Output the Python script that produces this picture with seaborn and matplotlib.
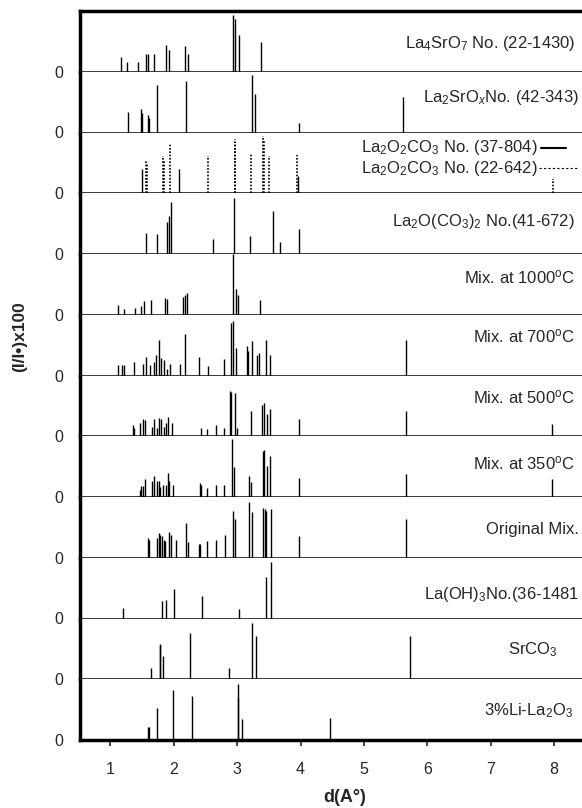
import numpy as np
import pandas as pd
import seaborn as sns
import matplotlib.pyplot as plt
from matplotlib.lines import Line2D

# stick patterns, d in Angstrom, intensity in % of panel height
d_la4sro7 = [1.16, 1.26, 1.44, 1.56, 1.59, 1.69, 1.87, 1.92, 2.18, 2.22, 2.94, 2.97, 3.03, 3.375]
i_la4sro7 = [24, 16, 16, 29, 29, 29, 44, 35, 42, 30, 93, 87, 60, 49]

d_la2srox = [1.27, 1.49, 1.50, 1.60, 1.61, 1.74, 2.19, 3.23, 3.28, 3.97, 5.61]
i_la2srox = [33, 38, 32, 29, 24, 78, 85, 95, 64, 16, 59]

d_37804 = [1.50, 2.08, 3.96]
i_37804 = [40, 40, 28]
d_22642 = [1.56, 1.58, 1.83, 1.85, 1.94, 2.54, 2.96, 2.97, 3.21, 3.40, 3.42, 3.50, 3.95, 7.98]
i_22642 = [53, 50, 61, 55, 81, 62, 89, 85, 66, 94, 88, 61, 63, 23]

d_la2oco3 = [1.56, 1.74, 1.89, 1.92, 1.95, 2.62, 2.95, 3.20, 3.57, 3.68, 3.98]
i_la2oco3 = [35, 33, 53, 63, 86, 24, 93, 30, 71, 19, 41]

d_1000 = [1.12, 1.22, 1.38, 1.49, 1.53, 1.64, 1.86, 1.89, 2.14, 2.18, 2.21, 2.94, 2.98, 3.02, 3.36]
i_1000 = [16, 9, 11, 15, 23, 24, 27, 26, 30, 33, 36, 100, 42, 32, 24]

d_700 = [1.12, 1.18, 1.22, 1.37, 1.51, 1.56, 1.62, 1.68, 1.72, 1.77, 1.80, 1.84, 1.89, 1.94,
         2.09, 2.18, 2.39, 2.54, 2.79, 2.91, 2.93, 2.98, 3.16, 3.17, 3.23, 3.32, 3.35, 3.46,
         3.51, 5.67]
i_700 = [18, 18, 18, 22, 19, 30, 18, 22, 34, 58, 28, 26, 11, 19,
         19, 69, 30, 16, 27, 87, 90, 45, 48, 41, 56, 34, 37, 59,
         34, 59]

d_500 = [1.35, 1.37, 1.46, 1.51, 1.55, 1.65, 1.69, 1.73, 1.77, 1.80, 1.84, 1.87, 1.91, 1.97,
         2.43, 2.53, 2.66, 2.79, 2.88, 2.91, 2.96, 3.00, 3.22, 3.39, 3.43, 3.47, 3.51, 3.97,
         5.67, 7.97]
i_500 = [19, 14, 21, 29, 27, 15, 29, 14, 30, 29, 15, 22, 31, 21,
         14, 12, 18, 14, 74, 73, 71, 14, 42, 52, 55, 36, 45, 29,
         41, 20]

d_350 = [1.46, 1.48, 1.52, 1.55, 1.65, 1.69, 1.73, 1.76, 1.79, 1.83, 1.87, 1.91, 1.93, 1.98,
         2.41, 2.43, 2.53, 2.66, 2.79, 2.92, 2.95, 3.18, 3.22, 3.40, 3.42, 3.47, 3.51, 3.97,
         5.67, 7.97]
i_350 = [12, 18, 18, 30, 27, 35, 26, 26, 16, 19, 20, 39, 26, 19,
         23, 20, 15, 20, 19, 96, 49, 35, 25, 75, 78, 51, 68, 32,
         38, 30]

d_orig = [1.59, 1.61, 1.73, 1.76, 1.78, 1.81, 1.84, 1.86, 1.93, 1.96, 2.04, 2.19, 2.22, 2.39,
          2.41, 2.53, 2.66, 2.80, 2.93, 2.96, 3.19, 3.24, 3.41, 3.44, 3.46, 3.53, 3.98, 5.67]
i_orig = [33, 30, 33, 40, 37, 35, 30, 27, 43, 37, 29, 57, 26, 22,
          22, 27, 29, 37, 77, 63, 92, 76, 82, 80, 77, 80, 36, 64]

d_laoh3 = [1.20, 1.82, 1.87, 2.01, 2.44, 3.03, 3.46, 3.53]
i_laoh3 = [17, 28, 31, 48, 37, 15, 68, 93]

d_srco3 = [1.64, 1.78, 1.79, 1.83, 2.25, 2.87, 3.23, 3.30, 5.72]
i_srco3 = [18, 58, 57, 38, 76, 18, 93, 71, 72]

d_li = [1.59, 1.61, 1.73, 1.98, 2.28, 3.01, 3.02, 3.08, 4.47]
i_li = [22, 22, 52, 83, 73, 93, 71, 35, 36]

deg = "$^{\\rm o}$C"
labels = ["La$_4$SrO$_7$ No. (22-1430)", "La$_2$SrO$_x$No. (42-343)", None,
          "La$_2$O(CO$_3$)$_2$ No.(41-672)", "Mix. at 1000" + deg, "Mix. at 700" + deg,
          "Mix. at 500" + deg, "Mix. at 350" + deg, "Original Mix.",
          "La(OH)$_3$No.(36-1481", "SrCO$_3$", "3%Li-La$_2$O$_3$"]
label_y = [0.47, 0.58, None, 0.53, 0.62, 0.65, 0.64, 0.56, 0.46, 0.39, 0.48, 0.49]
label_x = [575, 579, None, 575, 575, 575, 575, 575, 579, 579, 558, 573]

panels = [(d_la4sro7, i_la4sro7), (d_la2srox, i_la2srox), None, (d_la2oco3, i_la2oco3),
          (d_1000, i_1000), (d_700, i_700), (d_500, i_500), (d_350, i_350),
          (d_orig, i_orig), (d_laoh3, i_laoh3), (d_srco3, i_srco3), (d_li, i_li)]

sns.set_style("white")
plt.rcParams['font.family'] = ['Liberation Sans', 'DejaVu Sans']
plt.rcParams['mathtext.fontset'] = 'custom'
plt.rcParams['mathtext.rm'] = 'Liberation Sans'
plt.rcParams['mathtext.it'] = 'Liberation Sans:italic'

W, H = 582, 808
fig, axes = plt.subplots(12, 1, figsize=(W / 100, H / 100), dpi=100, sharex=True,
                         gridspec_kw={'hspace': 0})
fig.subplots_adjust(left=80 / W, right=1.0, top=1 - 11 / H, bottom=1 - 740 / H)


def ax_x(px):
    return (px - 80) / (W - 80)


for k, ax in enumerate(axes):
    if panels[k] is not None:
        df = pd.DataFrame({"d": panels[k][0], "I": panels[k][1]})
        ax.vlines(df["d"], 0, df["I"], color="black", lw=1.0)
    else:
        df1 = pd.DataFrame({"d": d_37804, "I": i_37804})
        df2 = pd.DataFrame({"d": d_22642, "I": i_22642})
        ax.vlines(df2["d"], 0, df2["I"], color="black", lw=1.2, linestyles=(0, (1, 1)))
        ax.vlines(df1["d"], 0, df1["I"], color="black", lw=1.0)
        ax.text(ax_x(538), 0.745, "La$_2$O$_2$CO$_3$ No. (37-804)", transform=ax.transAxes,
                ha="right", va="center", fontsize=12)
        ax.text(ax_x(538), 0.415, "La$_2$O$_2$CO$_3$ No. (22-642)", transform=ax.transAxes,
                ha="right", va="center", fontsize=12)
        ax.add_line(Line2D([ax_x(541), ax_x(566)], [0.745, 0.745], transform=ax.transAxes,
                           color="black", lw=1.5))
        ax.add_line(Line2D([ax_x(539), ax_x(579)], [0.415, 0.415], transform=ax.transAxes,
                           color="black", lw=0.8, linestyle=(0, (2, 2))))
    if labels[k] is not None:
        ax.text(ax_x(label_x[k]), label_y[k], labels[k], transform=ax.transAxes,
                ha="right", va="center", fontsize=12)

    ax.set_xlim(0.52, 8.44)
    ax.set_ylim(0, 100)
    ax.set_yticks([0])
    ax.set_yticklabels(["0"], fontsize=11.5)
    ax.tick_params(axis="y", length=0, pad=12)
    sns.despine(ax=ax, top=(k != 0), right=True)
    ax.spines["left"].set_linewidth(2.5)
    ax.spines["bottom"].set_linewidth(1.8)
    ax.spines["top"].set_linewidth(2.5)
    for s in ["left", "bottom", "top"]:
        ax.spines[s].set_color("black")
    if k < 11:
        ax.tick_params(axis="x", bottom=False, labelbottom=False)

axes[-1].spines["bottom"].set_linewidth(2.5)
axes[-1].set_xticks([1, 2, 3, 4, 5, 6, 7, 8])
axes[-1].tick_params(axis="x", direction="out", length=4, width=1.2, pad=12, labelsize=11.5,
                     bottom=True)

fig.text(20 / W, 1 - 337 / H, "(I/I\u2022)x100", rotation=90, ha="center", va="center",
         fontsize=12.5, fontweight="bold")
fig.text(345 / W, 1 - 797 / H, "d(A\u00b0)", ha="center", va="center",
         fontsize=13, fontweight="bold")

plt.savefig("out.png", dpi=100)
